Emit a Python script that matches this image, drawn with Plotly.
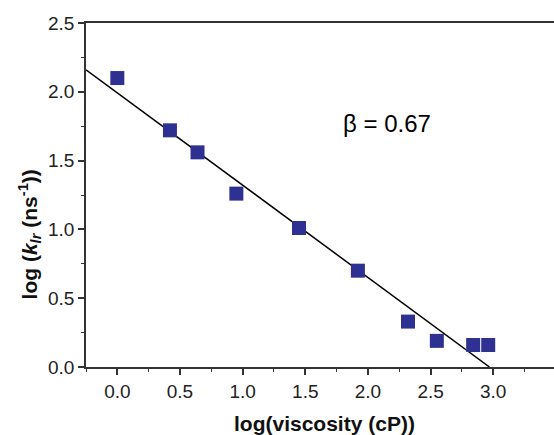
import plotly.graph_objects as go

log_visc = [0.0, 0.42, 0.64, 0.95, 1.45, 1.92, 2.32, 2.55, 2.84, 2.96]
log_k = [2.10, 1.72, 1.56, 1.26, 1.01, 0.70, 0.33, 0.19, 0.16, 0.16]
fit_x = [-0.25, 2.97]
fit_y = [2.16, 0.0]

fig = go.Figure()
fig.add_trace(go.Scatter(x=fit_x, y=fit_y, mode="lines",
                         line=dict(color="black", width=1.5), showlegend=False))
fig.add_trace(go.Scatter(x=log_visc, y=log_k, mode="markers",
                         marker=dict(symbol="square", size=14, color="#2E3192",
                                     line=dict(width=0)),
                         showlegend=False))

fig.add_annotation(x=2.15, y=1.77, text="β = 0.67", showarrow=False,
                   font=dict(family="Arial, Liberation Sans", size=24, color="black"))

titlefont = dict(family="Arial, Liberation Sans", size=21, color="#111")
fig.add_annotation(xref="paper", yref="paper", x=0.509, y=-0.163,
                   xanchor="center", yanchor="middle",
                   text="<b>log(viscosity (cP))</b>", showarrow=False, font=titlefont)
fig.add_annotation(xref="paper", yref="paper", x=-0.120, y=0.385, textangle=-90,
                   xanchor="center", yanchor="middle",
                   text="<b>log (<i>k</i><sub><i>lr</i></sub> (ns<sup>-1</sup>))</b>",
                   showarrow=False, font=titlefont)

axfont = dict(family="Arial, Liberation Sans", size=19, color="#222")
fig.update_layout(
    width=554, height=435,
    margin=dict(l=86, r=0, t=23, b=68),
    plot_bgcolor="white", paper_bgcolor="white",
    xaxis=dict(range=[-0.25, 3.485], tickvals=[0, 0.5, 1, 1.5, 2, 2.5, 3],
               ticktext=["0.0", "0.5", "1.0", "1.5", "2.0", "2.5", "3.0"],
               ticks="outside", ticklen=6, tickwidth=1.5, tickcolor="#333",
               minor=dict(ticks="outside", ticklen=3, dtick=0.25, tickcolor="#333", tickwidth=1.2),
               showline=True, linecolor="#333", linewidth=1.5, mirror=True,
               showgrid=False, zeroline=False, tickfont=axfont, automargin=False),
    yaxis=dict(range=[0, 2.5], tickvals=[0, 0.5, 1, 1.5, 2, 2.5],
               ticktext=["0.0", "0.5", "1.0", "1.5", "2.0", "2.5"],
               ticks="outside", ticklen=6, tickwidth=1.5, tickcolor="#333",
               minor=dict(ticks="outside", ticklen=3, dtick=0.25, tickcolor="#333", tickwidth=1.2),
               showline=True, linecolor="#333", linewidth=1.5,
               showgrid=False, zeroline=False, tickfont=axfont, automargin=False),
)
fig.write_html("out.html", config={"displayModeBar": False},
               post_script="document.body.style.margin='0';document.body.style.overflow='hidden';")
